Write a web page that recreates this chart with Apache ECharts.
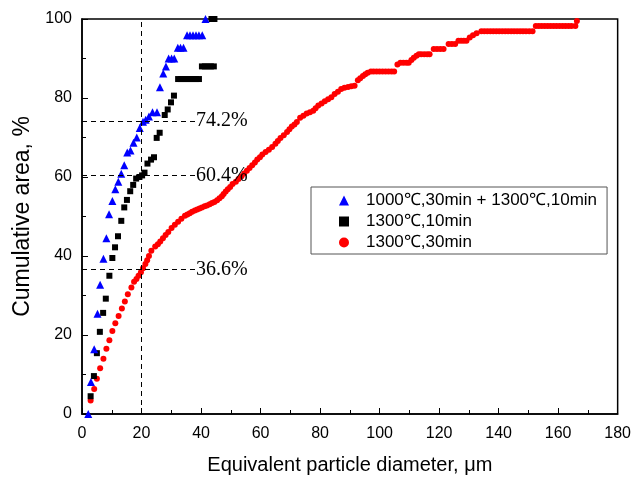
<!DOCTYPE html>
<html lang="en">

<head>
  <meta charset="UTF-8">
  <title>Cumulative area</title>
  <style>
    body { margin: 0; background: #fff; }
    #main { width: 634px; height: 480px; }
  </style>
</head>

<body>
  <div id="main"></div>
  <script src="https://cdn.jsdelivr.net/npm/echarts@6/dist/echarts.min.js"></script>
  <script>
    var seriesNames = ['1000℃,30min + 1300℃,10min', '1300℃,10min', '1300℃,30min'];
    var xTicks = [0, 20, 40, 60, 80, 100, 120, 140, 160, 180];
    var yTicks = [0, 20, 40, 60, 80, 100];

    // 1000C 30min + 1300C 10min
    var blueData = [
      [2.1, 0], [3, 8.1], [4.1, 16.4], [5.2, 25.4], [6.1, 32.7], [7.2, 39.3], [8.2, 44.5],
      [9.1, 50.6], [10.2, 53.9], [11.2, 56.9], [12.2, 58.8], [13.2, 60.8], [14.2, 63],
      [15.2, 66.2], [16.3, 66.7], [17.3, 68.7], [18.4, 70], [19.4, 72.4], [20.5, 74],
      [21.4, 74.5], [22.5, 75.3], [23.7, 76.4], [25.2, 76.4], [26.2, 82.7], [27.3, 86.2],
      [28.2, 88], [29.1, 90], [30.1, 90], [31, 90], [32.2, 92.7], [33.1, 92.7], [34.1, 92.7],
      [35.3, 95.9], [36.3, 95.9], [37.3, 95.9], [38.3, 95.9], [39.3, 95.9], [40.4, 95.9],
      [41.5, 100]
    ];

    // 1300C 10min
    var blackData = [
      [2.9, 4.5], [4, 9.6], [5, 15.4], [6, 20.8], [7.1, 25.6], [8, 29.2], [9.2, 35],
      [10.2, 39.5], [11.1, 42.2], [12.1, 45], [13.2, 48.9], [14.2, 52.3], [15.1, 54.2],
      [16.2, 56.4], [17.2, 58], [18.2, 59.6], [19.3, 60], [20.2, 60.4], [21, 61.1],
      [22, 63.4], [23.2, 64.4], [24.2, 65], [25.1, 69.9], [26.1, 71.2], [27.8, 75.7],
      [28.8, 77.1], [29.9, 78.9], [30.9, 80.6], [32.3, 84.8], [33.3, 84.8], [34.3, 84.8],
      [35.3, 84.8], [36.3, 84.8], [37.3, 84.8], [38.3, 84.8], [39.3, 84.8], [40.3, 88],
      [41.3, 88], [42.3, 88], [43.3, 88], [44.3, 88], [43.5, 100], [44.5, 100]
    ];

    // 1300C 30min
    var redData = [
      [2.9, 3.4], [4.1, 6.3], [5, 8.9], [6.1, 11.6], [7.2, 14], [8.2, 16.5], [9.2, 18.7],
      [10.2, 21], [11.2, 23], [12.3, 24.8], [13.4, 26.7], [14.4, 28.5], [15.4, 30.3],
      [16.6, 32], [17.5, 33.5], [18.3, 34.2], [19, 35], [19.8, 35.9], [20.5, 36.9],
      [21.3, 38], [21.9, 38.9], [22.5, 40], [23.3, 41.3], [24.6, 42.4], [25.5, 43],
      [26.3, 43.7], [27.2, 44.5], [28.1, 45.3], [29, 46.1], [30.1, 47.1], [31.2, 47.9],
      [32.3, 48.7], [33.4, 49.4], [34.6, 50.2], [35.4, 50.5], [36.2, 50.8], [37, 51.2],
      [37.9, 51.5], [38.7, 51.8], [39.5, 52], [40.3, 52.3], [41.2, 52.6], [42, 52.8],
      [42.9, 53.1], [43.7, 53.4], [44.5, 53.7], [45.4, 54.1], [46.2, 54.6], [47, 55.1],
      [47.6, 55.7], [48.3, 56.3], [49, 56.9], [49.8, 57.5], [50.6, 58.2], [51.7, 58.8],
      [52.6, 59.5], [53.6, 60.2], [54.5, 60.9], [55.4, 61.6], [56.3, 62.3], [57.2, 63],
      [58.1, 63.7], [58.9, 64.4], [59.8, 65], [60.6, 65.7], [61.7, 66.3], [62.8, 66.9],
      [63.9, 67.6], [65, 68.4], [65.8, 69.1], [66.7, 69.9], [67.8, 70.6], [68.9, 71.4],
      [69.7, 72.1], [70.5, 72.8], [71.4, 73.3], [72.2, 73.9], [73.3, 75], [74.4, 75.5],
      [75.5, 76.1], [76.6, 76.4], [77.7, 76.8], [78.5, 77.4], [79.4, 78.1], [80.5, 78.6],
      [81.6, 79.2], [82.7, 79.7], [83.8, 80.2], [84.9, 81], [86, 81.6], [87.1, 82.3],
      [88.2, 82.6], [89.4, 82.8], [90.5, 83], [91.6, 83.1], [92.7, 84.5], [93.5, 85],
      [94.4, 85.6], [95.2, 86], [96, 86.4], [97.1, 86.7], [98, 86.7], [99, 86.7],
      [100, 86.7], [101, 86.7], [102, 86.7], [103, 86.7], [104, 86.7], [104.9, 86.7],
      [106, 88.5], [107, 88.9], [108, 88.9], [109, 88.9], [109.8, 88.9], [110.7, 89.6],
      [111.5, 90.2], [112.4, 90.7], [113.2, 91.1], [114, 91.1], [115, 91.1], [116, 91.1],
      [116.8, 91.1], [118.2, 92.4], [119.3, 92.4], [120.4, 92.4], [121.5, 92.4],
      [123.2, 93.7], [124.3, 93.7], [125.4, 93.7], [126.5, 94.5], [127.4, 94.5],
      [128.3, 94.5], [129.2, 94.5], [130.3, 95.3], [131.4, 95.9], [132.6, 96.4],
      [134.2, 96.9], [135.2, 96.9], [136.2, 96.9], [137.2, 96.9], [138.2, 96.9],
      [139.2, 96.9], [140.2, 96.9], [141.2, 96.9], [142.2, 96.9], [143.2, 96.9],
      [144.2, 96.9], [145.2, 96.9], [146.2, 96.9], [147.2, 96.9], [148.2, 96.9],
      [149.2, 96.9], [150.3, 96.9], [151.4, 96.9], [152.5, 98.2], [153.5, 98.2],
      [154.5, 98.2], [155.5, 98.2], [156.5, 98.2], [157.5, 98.2], [158.5, 98.2],
      [159.5, 98.2], [160.5, 98.2], [161.5, 98.2], [162.5, 98.2], [163.5, 98.2],
      [164.5, 98.2], [165.8, 98.2], [166.3, 99.5]
    ];

    // reading guides: diameter 20 and the three cumulative values there
    var guideX = 20;
    var guideLevels = [74.2, 60.4, 36.6];
    var guideEnd = 38;

    var chart = echarts.init(document.getElementById('main'));

    var guideLines = [[{ coord: [guideX, 0] }, { coord: [guideX, 100], label: { show: false } }]];
    guideLevels.forEach(function (v) {
      guideLines.push([
        { coord: [0, v] },
        { coord: [guideEnd, v], label: { show: true, formatter: v.toFixed(1) + '%' } }
      ]);
    });

    var sans = 'Liberation Sans, Arial';
    var labelFont = { color: '#000', fontFamily: sans, fontSize: 16 };

    var option = {
      animation: false,
      backgroundColor: '#fff',
      grid: {
        left: 82, right: 14, top: 19, bottom: 65,
        show: true, borderColor: '#000', borderWidth: 1.5
      },
      legend: {
        orient: 'vertical',
        left: 311, top: 187,
        data: seriesNames,
        itemWidth: 10, itemHeight: 10, itemGap: 4,
        padding: [5, 10, 3, 28],
        borderColor: '#555', borderWidth: 1,
        backgroundColor: '#fff',
        textStyle: { color: '#000', fontFamily: sans, fontSize: 17, padding: [0, 0, 0, 12] }
      },
      xAxis: {
        type: 'value', min: 0, max: 180, interval: 20,
        name: 'Equivalent particle diameter, μm',
        nameLocation: 'middle', nameGap: 41,
        nameTextStyle: { color: '#000', fontFamily: sans, fontSize: 20 },
        axisLine: { lineStyle: { color: '#000', width: 1.5 } },
        axisTick: { inside: true, length: 6, lineStyle: { color: '#000' } },
        minorTick: { show: true, splitNumber: 2, length: 4, lineStyle: { color: '#000' } },
        axisLabel: Object.assign({ margin: 12 }, labelFont),
        splitLine: { show: false }
      },
      yAxis: {
        type: 'value', min: 0, max: 100, interval: 20,
        name: 'Cumulative area, %',
        nameLocation: 'middle', nameGap: 48,
        nameTextStyle: { color: '#000', fontFamily: sans, fontSize: 23 },
        axisLine: { show: true, lineStyle: { color: '#000', width: 1.5 } },
        axisTick: { show: true, inside: true, length: 6, lineStyle: { color: '#000' } },
        minorTick: { show: true, splitNumber: 2, length: 4, lineStyle: { color: '#000' } },
        axisLabel: Object.assign({ margin: 10 }, labelFont),
        splitLine: { show: false }
      },
      series: [
        {
          name: seriesNames[0], type: 'scatter', symbol: 'triangle', symbolSize: 8,
          itemStyle: { color: '#0000ff', opacity: 1 }, data: blueData, z: 4
        },
        {
          name: seriesNames[1], type: 'scatter', symbol: 'rect', symbolSize: 6,
          itemStyle: { color: '#000', opacity: 1 }, data: blackData, z: 3
        },
        {
          name: seriesNames[2], type: 'scatter', symbol: 'circle', symbolSize: 6,
          itemStyle: { color: '#ff0000', opacity: 1 }, data: redData, z: 2,
          markLine: {
            silent: true, symbol: 'none',
            lineStyle: { color: '#000', type: [5, 4], width: 1 },
            label: {
              show: false, position: 'end', distance: 1,
              color: '#000', fontFamily: 'Liberation Serif, Times New Roman', fontSize: 20
            },
            data: guideLines
          }
        }
      ]
    };

    chart.setOption(option);
  </script>
</body>

</html>
